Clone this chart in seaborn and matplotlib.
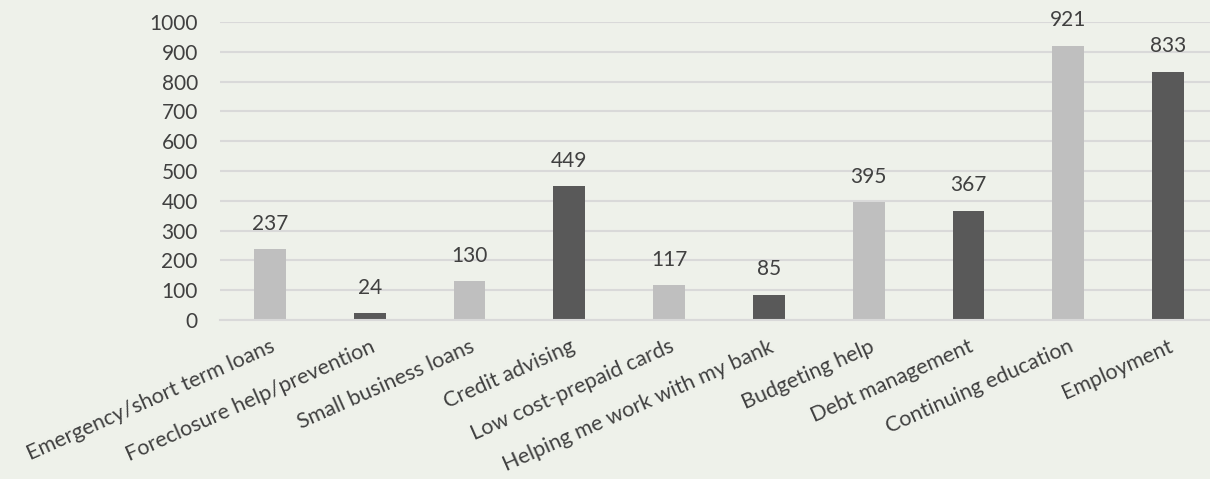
import numpy as np
import pandas as pd
import matplotlib
matplotlib.use("Agg")
import matplotlib.pyplot as plt
from matplotlib.ticker import FixedLocator
import seaborn as sns

# chart data
categories = [
    "Emergency/short term loans",
    "Foreclosure help/prevention",
    "Small business loans",
    "Credit advising",
    "Low cost-prepaid cards",
    "Helping me work with my bank",
    "Budgeting help",
    "Debt management",
    "Continuing education",
    "Employment",
]
counts = [237, 24, 130, 449, 117, 85, 395, 367, 921, 833]
y_ticks = [0, 100, 200, 300, 400, 500, 600, 700, 800, 900, 1000]

light = "#bfbfbf"
dark = "#595959"
text_col = "#404040"
grid_col = "#d9d9d9"
bg = "#eef1ea"

df = pd.DataFrame({"category": categories, "count": counts})
df["shade"] = ["a" if i % 2 == 0 else "b" for i in range(len(df))]

sns.set_style("white")
plt.rcParams["font.family"] = ["Lato", "DejaVu Sans"]

fig = plt.figure(figsize=(12.10, 4.79), dpi=100, facecolor=bg)
ax = fig.add_axes([220 / 1210, 1 - 320 / 479, 998 / 1210, 298 / 479])
ax.set_facecolor("none")

sns.barplot(data=df, x="category", y="count", hue="shade",
            palette={"a": light, "b": dark}, width=0.32,
            dodge=False, legend=False, ax=ax, saturation=1, linewidth=0)

for i, v in enumerate(counts):
    ax.annotate(str(v), (i, v), xytext=(0, 11), textcoords="offset points",
                ha="center", va="bottom", fontsize=15, color=text_col)

ax.set_ylim(0, 1000)
ax.set_xlim(-0.5, len(categories) - 0.5)
ax.set_yticks(y_ticks)
ax.yaxis.grid(True, color=grid_col, linewidth=1.5)
ax.set_axisbelow(True)
ax.tick_params(axis="y", length=0, labelsize=15, labelcolor=text_col, pad=16)

ax.set_xticks(range(len(categories)))
ax.set_xticklabels(categories, rotation=24, ha="right",
                   rotation_mode="anchor", fontsize=15.5, color=text_col)
ax.tick_params(axis="x", which="major", length=0, pad=12)
ax.xaxis.set_minor_locator(FixedLocator(np.arange(-0.5, len(categories), 1)))
ax.tick_params(axis="x", which="minor", length=8, color=grid_col, width=1.5)
ax.set_xlabel("")
ax.set_ylabel("")

for s in ["top", "right", "left"]:
    ax.spines[s].set_visible(False)
ax.spines["bottom"].set_color(grid_col)
ax.spines["bottom"].set_linewidth(1.5)

fig.savefig("out.png", dpi=100, facecolor=bg)
